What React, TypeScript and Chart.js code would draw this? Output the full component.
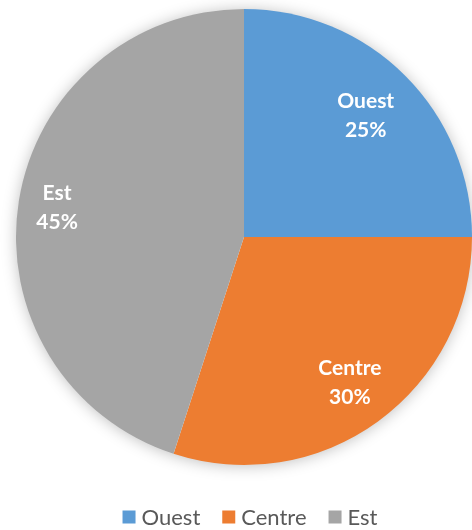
import React, { useEffect, useRef } from "react";
import { Chart, registerables } from "chart.js";

Chart.register(...registerables);

const categories = ["Ouest", "Centre", "Est"];
const shares = [25, 30, 45];
const colors = ["#5B9BD5", "#ED7D31", "#A5A5A5"];
const labelRadiusFrac = [0.755, 0.79, 0.83];

const FONT = "Lato, 'Open Sans', sans-serif";

const shadowPlugin = {
  id: "pieShadow",
  beforeDatasetsDraw(chart: any) {
    const meta = chart.getDatasetMeta(0);
    if (!meta.data.length) return;
    const arc = meta.data[0];
    const { x, y, outerRadius } = arc.getProps(["x", "y", "outerRadius"], true);
    const ctx = chart.ctx;
    ctx.save();
    ctx.shadowColor = "rgba(0,0,0,0.28)";
    ctx.shadowBlur = 16;
    ctx.shadowOffsetX = 0;
    ctx.shadowOffsetY = 1;
    ctx.fillStyle = "#ffffff";
    ctx.beginPath();
    ctx.arc(x, y, outerRadius - 1, 0, Math.PI * 2);
    ctx.fill();
    ctx.restore();
  },
};

const labelPlugin = {
  id: "sliceLabels",
  afterDatasetsDraw(chart: any) {
    const meta = chart.getDatasetMeta(0);
    const ctx = chart.ctx;
    const total = shares.reduce((a, b) => a + b, 0);
    ctx.save();
    ctx.fillStyle = "#ffffff";
    ctx.font = `bold 21px ${FONT}`;
    ctx.textAlign = "center";
    ctx.textBaseline = "middle";
    meta.data.forEach((arc: any, i: number) => {
      const p = arc.getProps(["x", "y", "startAngle", "endAngle", "outerRadius"], true);
      const mid = (p.startAngle + p.endAngle) / 2;
      const r = p.outerRadius * labelRadiusFrac[i];
      const lx = p.x + Math.cos(mid) * r;
      const ly = p.y + Math.sin(mid) * r;
      const pct = Math.round((shares[i] / total) * 100) + "%";
      ctx.fillText(categories[i], lx, ly - 14.5);
      ctx.fillText(pct, lx, ly + 14.5);
    });
    ctx.restore();
  },
};

const legendPlugin = {
  id: "bottomLegend",
  afterDraw(chart: any) {
    const ctx = chart.ctx;
    const box = 13;
    const gapBoxText = 6;
    const gapItems = 22;
    ctx.save();
    ctx.font = `22px ${FONT}`;
    ctx.textBaseline = "middle";
    ctx.textAlign = "left";
    const widths = categories.map((c) => ctx.measureText(c).width);
    const total =
      widths.reduce((a, w) => a + box + gapBoxText + w, 0) + gapItems * (categories.length - 1);
    const cy = 517;
    let x = chart.width / 2 + 14 - total / 2;
    categories.forEach((c, i) => {
      ctx.fillStyle = colors[i];
      ctx.fillRect(x, cy - box / 2, box, box);
      x += box + gapBoxText;
      ctx.fillStyle = "#595959";
      ctx.fillText(c, x, cy + 1);
      x += widths[i] + gapItems;
    });
    ctx.restore();
  },
};

export default function App() {
  const ref = useRef<HTMLCanvasElement | null>(null);
  useEffect(() => {
    document.body.style.margin = "0";
    if (!ref.current) return;
    const chart = new Chart(ref.current, {
      type: "pie",
      data: {
        labels: categories,
        datasets: [
          {
            data: shares,
            backgroundColor: colors,
            borderWidth: 0,
          },
        ],
      },
      options: {
        animation: false,
        responsive: false,
        devicePixelRatio: 1,
        layout: { padding: { top: 9, left: 16, right: 0, bottom: 65 } },
        plugins: {
          legend: { display: false },
          tooltip: { enabled: false },
        },
      },
      plugins: [shadowPlugin, labelPlugin, legendPlugin],
    });
    return () => chart.destroy();
  }, []);
  return (
    <div style={{ width: 472, height: 530, background: "#ffffff" }}>
      <canvas ref={ref} width={472} height={530} style={{ width: 472, height: 530, display: "block" }} />
    </div>
  );
}
